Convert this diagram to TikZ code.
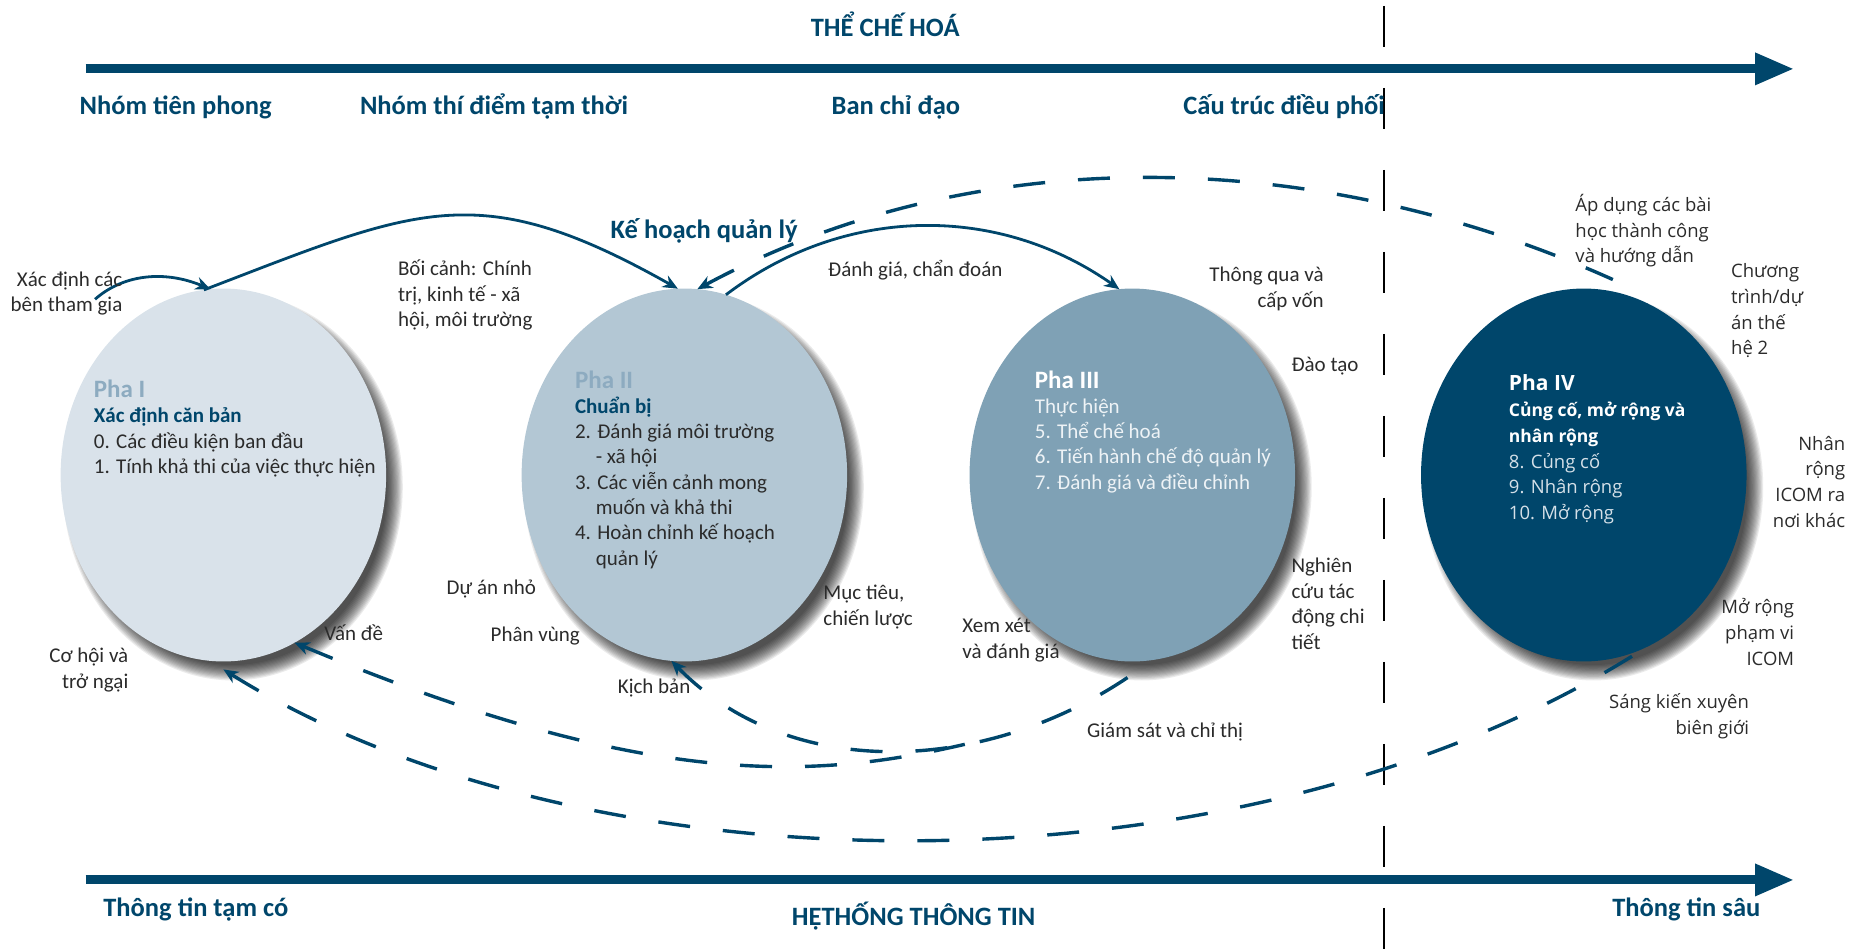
\documentclass[tikz,border=0pt]{standalone}
\usepackage{fontspec}
\setmainfont{Carlito}
\newfontfamily\widesans{Open Sans}
\usetikzlibrary{arrows.meta,shapes.geometric}

\definecolor{navy}{HTML}{00466B}
\definecolor{fillone}{HTML}{D9E2EA}
\definecolor{filltwo}{HTML}{B3C7D4}
\definecolor{fillthree}{HTML}{7FA1B5}
\definecolor{steel}{HTML}{8DABC0}
\definecolor{ink}{HTML}{2B2B2B}
\definecolor{pale}{HTML}{EEF3F6}
\definecolor{palefour}{HTML}{D5E0E8}

% several lines stacked, first baseline = node baseline
\newcommand\mlines[2][l]{\begin{tabular}[t]{@{}#1@{}}#2\end{tabular}}

\begin{document}
\begin{tikzpicture}[x=1.18814pt, y=-1.1875pt,
  every node/.style={inner sep=0pt, outer sep=0pt},
  phase/.style={ellipse, minimum width=325.5pt, minimum height=372.9pt},
  lbl/.style={font=\fontsize{21}{25.7}\selectfont, text=ink},
  lblw/.style={font=\widesans\fontsize{18.5}{25.7}\selectfont, text=ink},
  head/.style={font=\bfseries\fontsize{26.5}{30}\selectfont, text=navy},
  phtitle/.style={font=\bfseries\fontsize{25}{30}\selectfont},
  phbody/.style={font=\fontsize{21}{25.3}\selectfont},
  link/.style={draw=navy, line width=2.8pt, -{Stealth[length=15pt,width=13pt]}},
  dlink/.style={draw=navy, line width=3.4pt, dash pattern=on 32pt off 33pt,
                {Stealth[length=15pt,width=13pt]}-},
  axis/.style={draw=navy, line width=9pt, -{Triangle[length=39pt,width=30pt]}},
]
\useasboundingbox (0,0) rectangle (1568,800);

% soft drop shadows under the four phases
\foreach \cx in {188,576,953,1333}{
  \foreach \k in {0,...,13}{
    \fill[black, opacity=0.08] (\cx+8,410) ellipse [x radius=130+\k, y radius=150+\k];
  }
}

% phases
\node[phase, fill=fillone]   (p1) at (188,400) {};
\node[phase, fill=filltwo]   (p2) at (576,400) {};
\node[phase, fill=fillthree] (p3) at (953,400) {};
\node[phase, fill=navy]      (p4) at (1333,400) {};

% time axes and the divider
\coordinate (ta) at (72,58);   \coordinate (tb) at (1510,58);
\coordinate (ba) at (72,741);  \coordinate (bb) at (1510,741);
\coordinate (va) at (1165,5);  \coordinate (vb) at (1165,800);
\draw[axis] (ta) -- (tb);
\draw[axis] (ba) -- (bb);
\draw[black, line width=1.8pt, dash pattern=on 41pt off 41pt] (va) -- (vb);

% solid links
\coordinate (xd) at (80,252);
\draw[link] (xd) .. controls (105,230) and (140,228) .. (p1.94);
\draw[link] (p1.96) .. controls (352,175) and (402,148) .. (p2.92);
\draw[link] (p2.77) .. controls (710,173) and (839,171) .. (p3.94);

% dashed feedback links
\coordinate (p4top) at ([yshift=12pt]p4.81);
\coordinate (cohoi) at ([yshift=-8pt]p1.south);
\draw[dlink] (p2.86) .. controls (826,115) and (1112,125) .. (p4top);
\draw[dlink] (p2.-94) .. controls (669,663) and (845,652) .. (p3.-84)
  coordinate[pos=0.62] (merge);
\draw[dlink] (p1.-67) .. controls (546,666) and (686,656) .. (merge);
\draw[dlink] (cohoi) .. controls (494,755) and (1050,762) .. (p4.-70);

% headings
\node[head, anchor=base] (h-top) at (745,31) {THỂ CHẾ HOÁ};
\node[head, anchor=base west] (g1) at (67,96) {Nhóm tiên phong};
\node[head, anchor=base west] (g2) at (303,96) {Nhóm thí điểm tạm thời};
\node[head, anchor=base west] (g3) at (700,96) {Ban chỉ đạo};
\node[head, anchor=base west] (g4) at (996,96) {Cấu trúc điều phối};
\node[head, anchor=base west] (i1) at (87,772) {Thông tin tạm có};
\node[head, anchor=base] (h-bot) at (769,779) {HỆTHỐNG THÔNG TIN};
\node[head, anchor=base west] (i2) at (1357,772) {Thông tin sâu};
\node[head, anchor=base west] (plan) at (514,201) {Kế hoạch quản lý};

% phase texts
\node[phtitle, text=steel, anchor=base west] (p1t) at (79,335) {Pha I};
\node[phbody, text=ink, anchor=base west] (p1b) at (79,356)
  {\mlines{\textbf{\textcolor{navy}{Xác định căn bản}}\\0. Các điều kiện ban đầu\\1. Tính khả thi của việc thực hiện}};

\node[phtitle, text=steel, anchor=base west] (p2t) at (484,327) {Pha II};
\node[phbody, text=ink, anchor=base west] (p2b) at (484,348)
  {\mlines{\textbf{\textcolor{navy}{Chuẩn bị}}\\2. Đánh giá môi trường\\\phantom{2.\ }- xã hội\\3. Các viễn cảnh mong\\\phantom{3.\ }muốn và khả thi\\4. Hoàn chỉnh kế hoạch\\\phantom{4.\ }quản lý}};

\node[phtitle, text=white, anchor=base west] (p3t) at (871,327) {Pha III};
\node[phbody, text=pale, anchor=base west] (p3b) at (871,348)
  {\mlines{Thực hiện\\5. Thể chế hoá\\6. Tiến hành chế độ quản lý\\7. Đánh giá và điều chỉnh}};

\node[font=\widesans\bfseries\fontsize{21}{25}\selectfont, text=white, anchor=base west] (p4t) at (1270,329) {Pha IV};
\node[font=\widesans\fontsize{18.5}{25.7}\selectfont, text=palefour, anchor=base west] (p4b) at (1270,351)
  {\mlines{\textbf{\textcolor{white}{\fontsize{17.5}{25.7}\selectfont Củng cố, mở rộng và}}\\\textbf{\textcolor{white}{\fontsize{17.5}{25.7}\selectfont nhân rộng}}\\8. Củng cố\\9. Nhân rộng\\10. Mở rộng}};

% labels along the links
\node[lbl, anchor=base east] (l-xd) at (103,241) {\mlines[r]{Xác định các\\bên tham gia}};
\node[lbl, anchor=base west] (l-bc) at (335,232) {\mlines{Bối cảnh: Chính\\trị, kinh tế - xã\\hội, môi trường}};
\node[lbl, anchor=base west] (l-dg) at (697,233) {Đánh giá, chẩn đoán};
\node[lbl, anchor=base east] (l-tq) at (1114,237) {\mlines[r]{Thông qua và\\cấp vốn}};
\node[lbl, anchor=base west] (l-dt) at (1087,313) {Đào tạo};
\node[lbl, anchor=base west] (l-nc) at (1087,482) {\mlines{Nghiên\\cứu tác\\động chi\\tiết}};
\node[lbl, anchor=base west] (l-xx) at (810,533) {\mlines{Xem xét\\và đánh giá}};
\node[lbl, anchor=base west] (l-gs) at (915,621) {Giám sát và chỉ thị};
\node[lbl, anchor=base west] (l-mt) at (693,505) {\mlines{Mục tiêu,\\chiến lược}};
\node[lbl, anchor=base west] (l-kb) at (520,584) {Kịch bản};
\node[lbl, anchor=base west] (l-pv) at (413,540) {Phân vùng};
\node[lbl, anchor=base west] (l-da) at (376,501) {Dự án nhỏ};
\node[lbl, anchor=base west] (l-vd) at (273,539) {Vấn đề};
\node[lbl, anchor=base east] (l-ch) at (108,558) {\mlines[r]{Cơ hội và\\trở ngại}};

\node[lblw, anchor=base west] (l-ad) at (1326,178) {\mlines{Áp dụng các bài\\học thành công\\và hướng dẫn}};
\node[lblw, anchor=base west] (l-ct) at (1457,234) {\mlines{Chương\\trình/dự\\án thế\\hệ 2}};
\node[lblw, anchor=base east] (l-nr) at (1553,379) {\mlines[r]{Nhân\\rộng\\ICOM ra\\nơi khác}};
\node[lblw, anchor=base east] (l-mr) at (1510,517) {\mlines[r]{Mở rộng\\phạm vi\\ICOM}};
\node[lblw, anchor=base east] (l-sk) at (1472,597) {\mlines[r]{Sáng kiến xuyên\\biên giới}};
\end{tikzpicture}
\end{document}
